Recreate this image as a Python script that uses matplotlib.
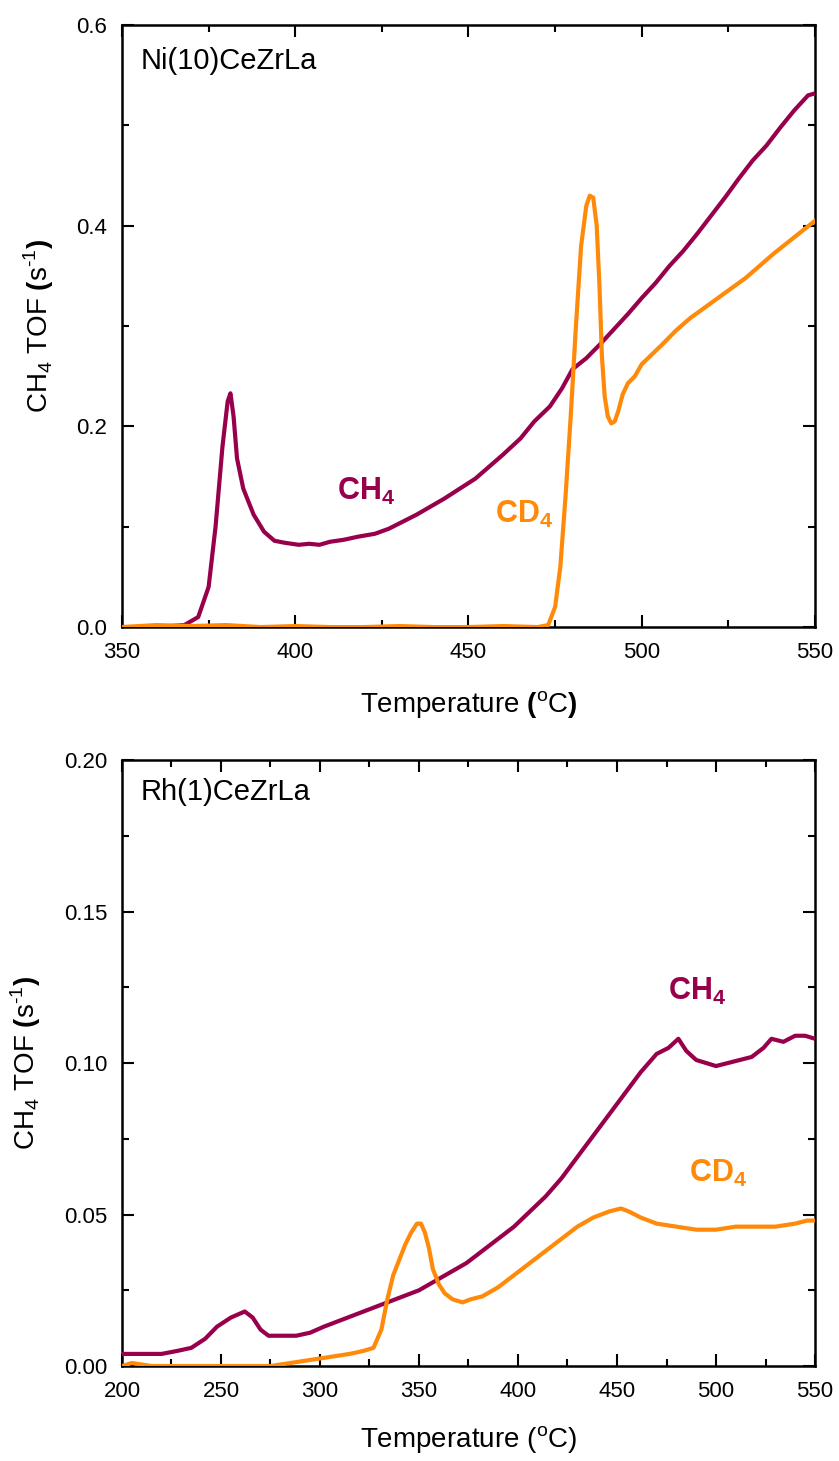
import matplotlib
matplotlib.use("Agg")
import matplotlib.pyplot as plt
from matplotlib.ticker import MultipleLocator

plt.rcParams['font.family'] = ['Liberation Sans', 'DejaVu Sans']
plt.rcParams['mathtext.fontset'] = 'custom'
plt.rcParams['mathtext.rm'] = 'Liberation Sans'
plt.rcParams['mathtext.bf'] = 'Liberation Sans:bold'

PURPLE = '#99004C'
ORANGE = '#FF8A0A'

# --- Ni(10)CeZrLa
ni_ch4_T = [350, 360, 368, 372, 375, 377, 379, 380.5, 381.3, 382.2, 383.2, 385, 388, 391, 394, 397,
            401, 404, 407, 410, 414, 418, 423, 427, 431, 435, 439, 443, 447.5, 452, 456, 460, 465,
            469, 473.5, 477, 480, 484, 488, 492, 496, 500, 504, 508, 512, 516, 520, 524, 528, 532,
            536, 540, 544, 548, 550]
ni_ch4_y = [0.0, 0.0, 0.002, 0.01, 0.04, 0.1, 0.18, 0.225, 0.233, 0.21, 0.168, 0.138, 0.112, 0.095,
            0.086, 0.084, 0.082, 0.083, 0.082, 0.085, 0.087, 0.09, 0.093, 0.098, 0.105, 0.112, 0.12,
            0.128, 0.138, 0.148, 0.16, 0.172, 0.188, 0.205, 0.22, 0.238, 0.257, 0.268, 0.282, 0.297,
            0.312, 0.328, 0.343, 0.36, 0.375, 0.392, 0.41, 0.428, 0.447, 0.465, 0.48, 0.498, 0.515,
            0.53, 0.532]
ni_cd4_T = [350, 360, 370, 380, 390, 400, 410, 420, 430, 440, 450, 460, 470, 473, 475, 476.5, 478,
            479.5, 481, 482.5, 484, 485, 486, 487, 487.8, 488.5, 489.3, 490.2, 491.2, 492.2, 493.2,
            494.5, 496, 498, 500, 503, 506, 510, 514, 518, 522, 526, 530, 534, 538, 542, 546, 550]
ni_cd4_y = [0.0, 0.002, 0.001, 0.002, 0.0, 0.001, 0.0, 0.0, 0.001, 0.0, 0.0, 0.001, 0.0, 0.002, 0.02,
            0.06, 0.13, 0.21, 0.3, 0.38, 0.42, 0.43, 0.428, 0.4, 0.34, 0.27, 0.23, 0.21, 0.203, 0.205,
            0.215, 0.232, 0.243, 0.25, 0.262, 0.272, 0.282, 0.296, 0.308, 0.318, 0.328, 0.338, 0.348,
            0.36, 0.372, 0.383, 0.394, 0.405]

# --- Rh(1)CeZrLa
rh_ch4_T = [200, 210, 220, 228, 235, 242, 248, 255, 262, 266, 270, 274, 280, 288, 295, 302, 310,
            318, 326, 334, 342, 350, 358, 366, 374, 382, 390, 398, 406, 414, 422, 430, 438, 446,
            454, 462, 470, 476, 481, 485, 490, 495, 500, 506, 512, 518, 524, 528, 534, 540, 545, 550]
rh_ch4_y = [0.004, 0.004, 0.004, 0.005, 0.006, 0.009, 0.013, 0.016, 0.018, 0.016, 0.012, 0.01,
            0.01, 0.01, 0.011, 0.013, 0.015, 0.017, 0.019, 0.021, 0.023, 0.025, 0.028, 0.031,
            0.034, 0.038, 0.042, 0.046, 0.051, 0.056, 0.062, 0.069, 0.076, 0.083, 0.09, 0.097,
            0.103, 0.105, 0.108, 0.104, 0.101, 0.1, 0.099, 0.1, 0.101, 0.102, 0.105, 0.108, 0.107,
            0.109, 0.109, 0.108]
rh_cd4_T = [200, 205, 215, 230, 250, 265, 275, 285, 295, 305, 315, 322, 327, 331, 334, 337, 340,
            343, 346, 349, 351, 353, 355, 357, 360, 363, 367, 372, 376, 382, 390, 398, 406, 414,
            422, 430, 438, 446, 452, 456, 462, 470, 480, 490, 500, 510, 520, 530, 540, 546, 550]
rh_cd4_y = [0.0, 0.001, 0.0, 0.0, 0.0, 0.0, 0.0, 0.001, 0.002, 0.003, 0.004, 0.005, 0.006, 0.012,
            0.022, 0.03, 0.035, 0.04, 0.044, 0.047, 0.047, 0.044, 0.039, 0.032, 0.027, 0.024,
            0.022, 0.021, 0.022, 0.023, 0.026, 0.03, 0.034, 0.038, 0.042, 0.046, 0.049, 0.051,
            0.052, 0.051, 0.049, 0.047, 0.046, 0.045, 0.045, 0.046, 0.046, 0.046, 0.047, 0.048,
            0.048]

fig = plt.figure(figsize=(8.39, 14.61), dpi=100)
ax1 = fig.add_axes([0.1454, 0.5708, 0.8260, 0.4120])
ax2 = fig.add_axes([0.1454, 0.0650, 0.8260, 0.4148])

lw = 3.0
ax1.plot(ni_ch4_T, ni_ch4_y, color=PURPLE, lw=lw, zorder=3)
ax1.plot(ni_cd4_T, ni_cd4_y, color=ORANGE, lw=lw, zorder=4)
ax2.plot(rh_ch4_T, rh_ch4_y, color=PURPLE, lw=lw, zorder=3)
ax2.plot(rh_cd4_T, rh_cd4_y, color=ORANGE, lw=lw, zorder=4)

ax1.set_xlim(350, 550)
ax1.set_ylim(0, 0.6)
ax1.xaxis.set_major_locator(MultipleLocator(50))
ax1.xaxis.set_minor_locator(MultipleLocator(25))
ax1.yaxis.set_major_locator(MultipleLocator(0.2))
ax1.yaxis.set_minor_locator(MultipleLocator(0.1))
ax1.yaxis.set_major_formatter(plt.FormatStrFormatter('%.1f'))

ax2.set_xlim(200, 550)
ax2.set_ylim(0, 0.2)
ax2.xaxis.set_major_locator(MultipleLocator(50))
ax2.xaxis.set_minor_locator(MultipleLocator(25))
ax2.yaxis.set_major_locator(MultipleLocator(0.05))
ax2.yaxis.set_minor_locator(MultipleLocator(0.025))
ax2.yaxis.set_major_formatter(plt.FormatStrFormatter('%.2f'))

for ax in (ax1, ax2):
    for s in ax.spines.values():
        s.set_linewidth(1.8)
    ax.tick_params(which='both', direction='in', top=True, right=True, width=1.5)
    ax.tick_params(which='major', length=8.5, labelsize=16, pad=10.5)
    ax.tick_params(which='minor', length=5)
    ax.set_ylabel(r'CH$_4$ TOF $\mathbf{(}$s$^{\text{-}1}$$\mathbf{)}$', fontsize=20, labelpad=15)

ax1.set_xlabel(r'Temperature $\mathbf{(}$$^{\rm o}$C$\mathbf{)}$', fontsize=20, labelpad=19)
ax2.set_xlabel(r'Temperature ($^{\rm o}$C)', fontsize=20, labelpad=16)

ax1.text(0.027, 0.94, 'Ni(10)CeZrLa', transform=ax1.transAxes, fontsize=21, va='center')
ax2.text(0.027, 0.947, 'Rh(1)CeZrLa', transform=ax2.transAxes, fontsize=21, va='center')

lab = dict(fontsize=22, fontweight='bold', va='baseline')
ax1.text(412, 0.1266, r'CH$_\mathbf{4}$', color=PURPLE, **lab)
ax1.text(457.6, 0.1037, r'CD$_\mathbf{4}$', color=ORANGE, **lab)
ax2.text(475.8, 0.1208, r'CH$_\mathbf{4}$', color=PURPLE, **lab)
ax2.text(486.4, 0.0607, r'CD$_\mathbf{4}$', color=ORANGE, **lab)

fig.savefig('out.png', dpi=100)
